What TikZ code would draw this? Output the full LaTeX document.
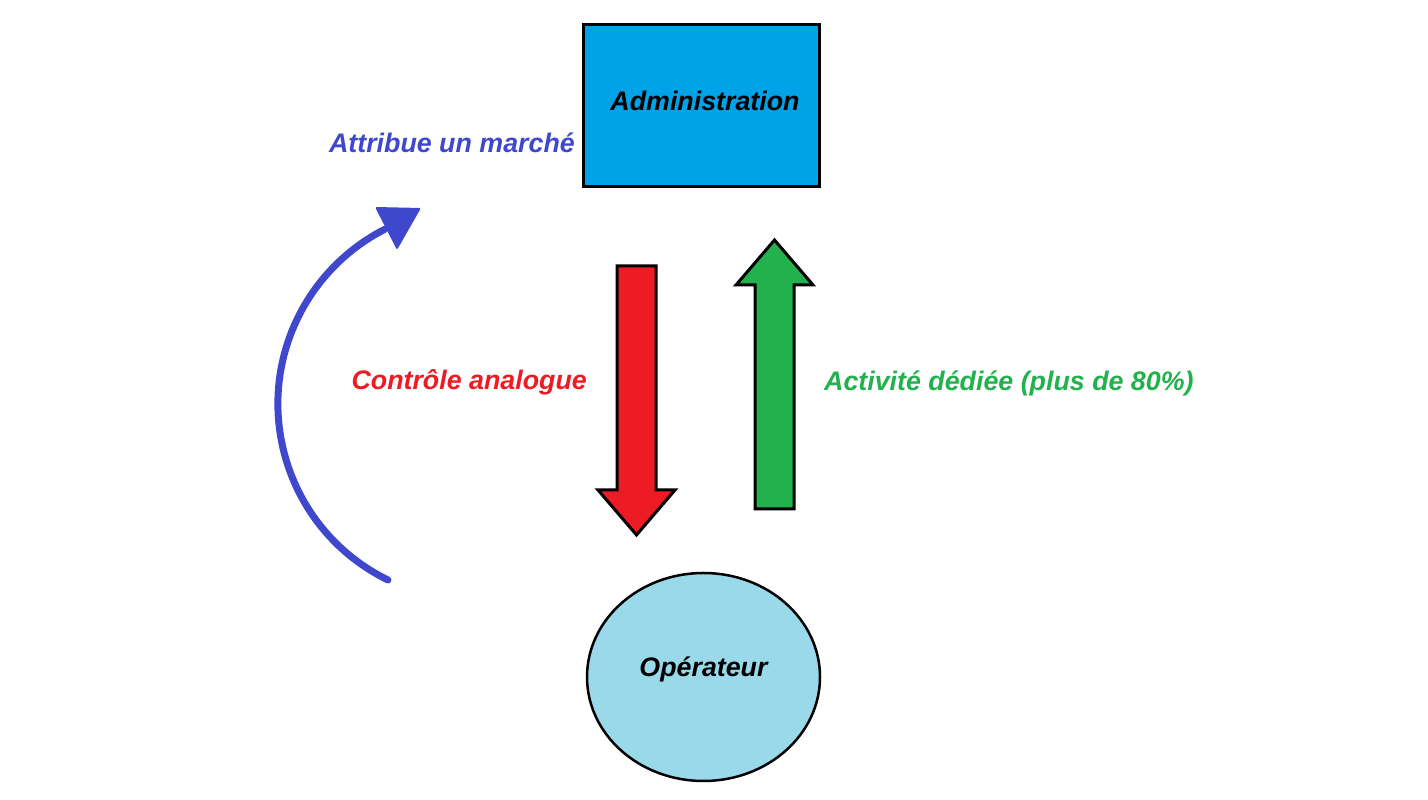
\documentclass[tikz,border=0pt]{standalone}
\usepackage{fontspec}
\setmainfont{Liberation Sans}
\usetikzlibrary{shapes.geometric}
\definecolor{admincyan}{HTML}{00A2E8}
\definecolor{opercyan}{HTML}{99D9EA}
\definecolor{ctrlred}{HTML}{ED1C24}
\definecolor{actgreen}{HTML}{22B14C}
\definecolor{marcheblue}{HTML}{3F48CC}
\tikzset{
  bigtext/.style={font=\fontsize{26.8}{31}\selectfont\bfseries\itshape},
  blockarrow/.style={draw=black, line width=3pt, line join=miter},
}
\begin{document}
\begin{tikzpicture}[x=1pt,y=1pt]
  \useasboundingbox (0,0) rectangle (1428,800);
  \fill[white] (0,0) rectangle (1428,800);
  % entities
  \node[bigtext, draw=black, line width=3pt, fill=admincyan, minimum width=236pt,
        minimum height=162pt, inner sep=0pt, text height=19pt, text depth=10pt] (admin) at (701,694)
        {\hspace{8pt}Administration};
  \node[bigtext, ellipse, draw=black, line width=2.5pt, fill=opercyan, minimum width=233pt,
        minimum height=208pt, inner sep=0pt, text height=19pt, text depth=20pt] (oper) at (703.5,123)
        {Opérateur};
  % block arrows
  \filldraw[blockarrow, fill=ctrlred] (617,534) -- (656,534) -- (656,310) -- (675,310)
    -- (636.5,265) -- (598,310) -- (617,310) -- cycle;
  \filldraw[blockarrow, fill=actgreen] (755,291) -- (794,291) -- (794,515) -- (813,515)
    -- (774.5,560) -- (736,515) -- (755,515) -- cycle;
  % labels
  \node[bigtext, text=marcheblue, anchor=base east, inner sep=0pt] (marche) at (575,647) {Attribue un marché};
  \node[bigtext, text=ctrlred, anchor=base east, inner sep=0pt] (ctrl) at (587,410) {Contrôle analogue};
  \node[bigtext, text=actgreen, anchor=base west, inner sep=0pt] (act) at (824,409) {Activité dédiée (plus de 80\%)};
  % loop back to the administration
  \coordinate (arcstart) at (388,220);
  \draw[marcheblue, line width=7pt, line cap=round] (arcstart) arc[start angle=244, end angle=117, radius=196];
  \fill[marcheblue, rounded corners=2pt] (375,593) -- (421,592) -- (397,550) -- cycle;
\end{tikzpicture}
\end{document}
